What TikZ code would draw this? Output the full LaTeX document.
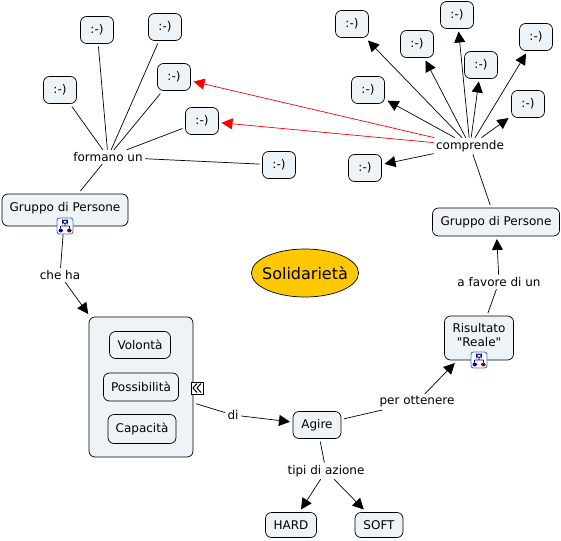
\documentclass[tikz,border=0pt]{standalone}
\usepackage{fontspec}
\setmainfont{DejaVu Sans}[Ligatures=TeXOff]
\usetikzlibrary{
    shapes.geometric,
    arrows.meta
}
\definecolor{conceptfill}{RGB}{237,243,246}
\definecolor{titleorange}{RGB}{255,200,0}
\definecolor{iconblue}{RGB}{60,120,200}

\begin{document}
\begin{tikzpicture}[
        x=1pt, y=-1pt,
        concept/.style={draw, rounded corners=6pt, fill=conceptfill, line width=0.7pt, outer sep=3pt, font=\fontsize{12}{14}\selectfont, align=center},
        smiley/.style={concept, minimum width=33pt, minimum height=27pt, inner sep=0pt},
        linkword/.style={inner sep=1.5pt, outer sep=1pt, font=\fontsize{12}{14}\selectfont},
        arrow/.style={-{Triangle[length=11pt, width=11pt]}, line width=0.7pt},
        link/.style={line width=0.7pt},
        mapicon/.style={draw=iconblue, fill=white, rounded corners=2.5pt, line width=0.9pt, minimum size=16pt, inner sep=0pt, path picture={
            \draw[blue!50!black, line width=0.9pt]
                (path picture bounding box.center) ++(-2.5,-6) rectangle ++(5,3.5)
                (path picture bounding box.center) ++(0,-2.5) -- ++(0,2.5) ++(-4.5,0) -- ++(9,0) ++(-9,0) -- ++(0,2.5) ++(9,-2.5) -- ++(0,2.5);
            \fill[blue!60!black] (path picture bounding box.center) ++(-6.5,2.5) rectangle ++(4.5,4);
            \fill[red!50!black] (path picture bounding box.center) ++(2,2.5) rectangle ++(4.5,4);
        }},
        expander/.style={draw, fill=white, line width=0.7pt, minimum size=12pt, inner sep=0pt, path picture={
            \draw[line width=1pt]
                (path picture bounding box.center) ++(0,-4.5) -- ++(-4,4.5) -- ++(4,4.5)
                (path picture bounding box.center) ++(4,-4.5) -- ++(-4,4.5) -- ++(4,4.5);
        }}
    ]
        \useasboundingbox (0,0) rectangle (561,540);

        % Title
        \node[draw, ellipse, fill=titleorange, line width=0.7pt, minimum width=106pt, minimum height=48pt, inner ysep=0pt, inner xsep=-5pt, font=\fontsize{16}{18}\selectfont] (title) at (305,273) {Solidarietà};

        % Left group
        \node[concept, minimum width=126pt, minimum height=32pt, inner sep=0pt, text depth=6pt] (groupL) at (65,210) {Gruppo di Persone};
        \node[linkword] (formano) at (108,157) {formano un};
        \node[smiley] (l1) at (60,90) {:-)};
        \node[smiley] (l2) at (97,30) {:-)};
        \node[smiley] (l3) at (165,27) {:-)};
        \node[smiley] (l4) at (174,77) {:-)};
        \node[smiley] (l5) at (202,121) {:-)};
        \node[smiley] (l6) at (279,165) {:-)};

        % Right group
        \node[concept, minimum width=127pt, minimum height=28pt, inner sep=0pt] (groupR) at (496,222) {Gruppo di Persone};
        \node[linkword] (comprende) at (470,146) {comprende};
        \node[smiley] (r1) at (352,24) {:-)};
        \node[smiley] (r2) at (417,44) {:-)};
        \node[smiley] (r3) at (457,15) {:-)};
        \node[smiley] (r4) at (481,65) {:-)};
        \node[smiley] (r5) at (536,37) {:-)};
        \node[smiley] (r6) at (528,104) {:-)};
        \node[smiley] (r7) at (368,90) {:-)};
        \node[smiley] (r8) at (365,168) {:-)};

        % Nested box
        \node[concept, minimum width=104pt, minimum height=140pt] (box) at (141,387) {};
        \node[concept, minimum width=61pt, minimum height=27pt, inner sep=0pt] (volonta) at (140,345) {Volontà};
        \node[concept, minimum width=75pt, minimum height=28pt, inner sep=0pt] (possib) at (141,387) {Possibilità};
        \node[concept, minimum width=68pt, minimum height=29pt, inner sep=0pt] (capac) at (142,429) {Capacità};

        % Bottom
        \node[concept, minimum width=48pt, minimum height=27pt, inner sep=0pt] (agire) at (317,425) {Agire};
        \node[concept, minimum width=69pt, minimum height=44pt, inner sep=0pt, text depth=7pt] (result) at (479,338) {Risultato\\"Reale"};
        \node[concept, minimum width=51pt, minimum height=25pt, inner sep=0pt] (hard) at (291,525) {HARD};
        \node[concept, minimum width=48pt, minimum height=25pt, inner sep=0pt] (soft) at (379,525) {SOFT};

        % Link words
        \node[linkword] (cheha) at (60,275) {che ha};
        \node[linkword] (di) at (233,415) {di};
        \node[linkword] (per) at (417,402) {per ottenere};
        \node[linkword] (favore) at (499,282) {a favore di un};
        \node[linkword] (tipi) at (326,471) {tipi di azione};

        % Connectors
        \foreach \i/\j in {groupL/formano, formano/l1, formano/l2, formano/l3, formano/l4, formano/l5, formano/l6, groupL/cheha, box/di, agire/per, result/favore, agire/tipi, groupR/comprende} {
            \draw[link] (\i) -- (\j);
        }
        \foreach \i/\j in {cheha/box, di/agire, per/result, favore/groupR, tipi/hard, tipi/soft, comprende/r1, comprende/r2, comprende/r3, comprende/r4, comprende/r5, comprende/r6, comprende/r7, comprende/r8} {
            \draw[arrow] (\i) -- (\j);
        }
        \draw[arrow, red] (comprende) -- (l4);
        \draw[arrow, red] (comprende) -- (l5);

        % Icons
        \node[mapicon] (iconL) at (65,226) {};
        \node[mapicon] (iconR) at (479,360) {};
        \node[expander] (expand) at (197,388) {};

    \end{tikzpicture}
\end{document}
